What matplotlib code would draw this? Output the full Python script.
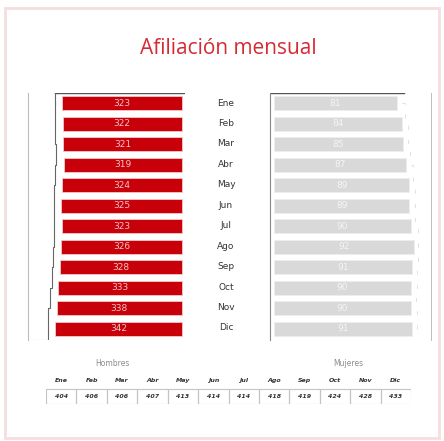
import matplotlib.pyplot as plt
from matplotlib.patches import Rectangle

meses = ["Ene", "Feb", "Mar", "Abr", "May", "Jun", "Jul", "Ago", "Sep", "Oct", "Nov", "Dic"]
hombres = [323, 322, 321, 319, 324, 325, 323, 326, 328, 333, 338, 342]
mujeres = [81, 84, 85, 87, 89, 89, 90, 92, 91, 90, 90, 91]
totales = [404, 406, 406, 407, 413, 414, 414, 418, 419, 424, 428, 433]

W, H = 444, 441
rojo = "#c8000a"
gris = "#d9d9d9"
linea = "#555555"
claro = "#bdbdbd"


def px(x0, y0, x1, y1):
    # caja en pixeles -> fraccion de figura [left, bottom, width, height]
    return [x0 / W, 1 - y1 / H, (x1 - x0) / W, (y1 - y0) / H]


fig = plt.figure(figsize=(W / 100, H / 100), dpi=100, facecolor="white")
fig.patches.append(Rectangle((5 / W, 1 - 438 / H), 434 / W, 430 / H, transform=fig.transFigure,
                             fill=False, edgecolor="#f6dede", linewidth=2))
fig.text(228 / W, 1 - 48 / H, "Afiliación mensual", color="#d62a33", fontsize=15,
         ha="center", va="center", family="Open Sans")

pos = list(range(len(meses)))
n = len(meses)

# hombres (izquierda, eje invertido)
ax1 = fig.add_axes(px(28, 93, 185, 340))
ax1.barh(pos, hombres, height=0.68, color=rojo, edgecolor="#f3c9c9", linewidth=0.6)
ax1.set_xlim(415, -8)
ax1.set_ylim(n - 0.45, -0.5)
for i, v in enumerate(hombres):
    ax1.text(v / 2, i, str(v), color="#f4c4c4", fontsize=6.5, ha="center", va="center")
ax1.set_xticks([])
ax1.set_yticks([])
for s in ["right", "bottom", "top"]:
    ax1.spines[s].set_visible(False)
ax1.spines["left"].set_color(claro)
ax1.spines["left"].set_linewidth(0.8)
# linea escalonada junto al borde de las barras
borde = [v + 20 for v in hombres]
ax1.step(borde, pos, where="mid", color="#666666", linewidth=0.8)
ax1.plot([-8, borde[0]], [-0.5, -0.5], color=linea, linewidth=1.0)
ax1.plot([borde[0], borde[0]], [-0.5, 0], color="#666666", linewidth=0.8)
ax1.plot([borde[-1], borde[-1]], [n - 1, n - 0.45], color="#666666", linewidth=0.8)
ax1.plot([borde[-1], 415], [n - 0.45, n - 0.45], color=claro, linewidth=0.8)

# etiquetas de meses
for i, m in enumerate(meses):
    fig.text(226 / W, 1 - (103 + i * 20.45) / H, m, fontsize=6.5, color="#333333",
             ha="center", va="center")

# mujeres (derecha)
ax2 = fig.add_axes(px(270, 93, 431, 340))
ax2.barh(pos, mujeres, height=0.68, color=gris, edgecolor="#eeeeee", linewidth=0.6)
ax2.set_xlim(-2.63, 103.3)
ax2.set_ylim(n - 0.45, -0.5)
for i, v in enumerate(mujeres):
    ax2.text(v / 2, i, str(v), color="#f5f5f5", fontsize=6.5, ha="center", va="center")
ax2.set_xticks([])
ax2.set_yticks([])
for s in ["top", "bottom"]:
    ax2.spines[s].set_visible(False)
ax2.spines["left"].set_color("#888888")
ax2.spines["left"].set_linewidth(0.8)
ax2.spines["right"].set_color(claro)
ax2.spines["right"].set_linewidth(0.7)
ax2.plot([-2.63, 85.5], [-0.5, -0.5], color=linea, linewidth=1.0)
ax2.plot([96.5, 103.3], [n - 0.45, n - 0.45], color=claro, linewidth=0.7)
ax2.step([v + 3.5 for v in mujeres], pos, where="mid", color="#dddddd",
         linewidth=0.6, linestyle=(0, (5, 12)))

# tabla inferior
fig.text(112 / W, 1 - 364 / H, "Hombres", fontsize=5.5, color="#8c8c8c", ha="center", va="center")
fig.text(348 / W, 1 - 364 / H, "Mujeres", fontsize=5.5, color="#8c8c8c", ha="center", va="center")
ax3 = fig.add_axes(px(46, 373, 411, 404))
ax3.set_xlim(0, n)
ax3.set_ylim(2, 0)
ax3.axis("off")
for i, (m, t) in enumerate(zip(meses, totales)):
    ax3.text(i + 0.5, 0.5, m, fontsize=4.5, style="italic", fontweight="bold",
             color="#333333", ha="center", va="center")
    ax3.add_patch(Rectangle((i, 1.05), 1, 0.95, fill=False, edgecolor="#c4c4c4", linewidth=0.8))
    ax3.text(i + 0.5, 1.52, str(t), fontsize=4.5, style="italic", fontweight="bold",
             color="#333333", ha="center", va="center")

fig.savefig("out.png", dpi=100)
